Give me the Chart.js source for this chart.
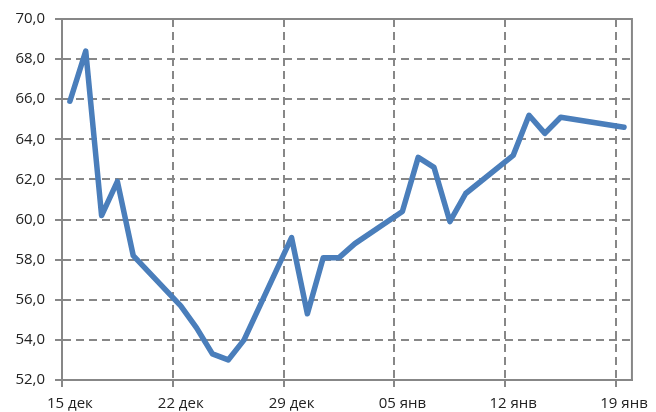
<!DOCTYPE html>
<html>
<head>
<meta charset="utf-8">
<script src="https://cdn.jsdelivr.net/npm/chart.js@4"></script>
<style>
  html, body { margin: 0; padding: 0; background: #fff; }
  #wrap { width: 656px; height: 412px; }
</style>
</head>
<body>
<div id="wrap"><canvas id="chart" width="656" height="412"></canvas></div>
<script>
// дни с 15 дек по 19 янв (выходные без данных = null)
const days = [
  '15 дек', '16 дек', '17 дек', '18 дек', '19 дек', '20 дек', '21 дек',
  '22 дек', '23 дек', '24 дек', '25 дек', '26 дек', '27 дек', '28 дек',
  '29 дек', '30 дек', '31 дек', '01 янв', '02 янв', '03 янв', '04 янв',
  '05 янв', '06 янв', '07 янв', '08 янв', '09 янв', '10 янв', '11 янв',
  '12 янв', '13 янв', '14 янв', '15 янв', '16 янв', '17 янв', '18 янв',
  '19 янв'
];
const values = [
  65.9, 68.4, 60.2, 61.9, 58.2, null, null,
  55.7, 54.6, 53.3, 53.0, 54.0, null, null,
  59.1, 55.3, 58.1, 58.1, 58.8, null, null,
  60.4, 63.1, 62.6, 59.9, 61.3, null, null,
  63.2, 65.2, 64.3, 65.1, null, null, null,
  64.6
];
const yTicks = [52, 54, 56, 58, 60, 62, 64, 66, 68, 70];
const labelEvery = 7;

const gridGray = '#878787';
const txt = '#222';

const frame = {
  id: 'frame',
  beforeDatasetsDraw(chart) {
    const a = chart.chartArea;
    const c = chart.ctx;
    c.save();
    c.strokeStyle = gridGray;
    c.lineWidth = 2;
    c.setLineDash([]);
    c.strokeRect(a.left, a.top, a.right - a.left, a.bottom - a.top);
    c.restore();
  }
};

new Chart(document.getElementById('chart'), {
  type: 'line',
  data: {
    labels: days,
    datasets: [{
      data: values,
      borderColor: '#4a7ebb',
      borderWidth: 5.5,
      borderJoinStyle: 'round',
      borderCapStyle: 'round',
      pointRadius: 0,
      tension: 0,
      spanGaps: true
    }]
  },
  options: {
    responsive: false,
    animation: false,
    layout: { padding: { top: 16, right: 18, left: 0, bottom: 0 } },
    plugins: { legend: { display: false }, tooltip: { enabled: false } },
    scales: {
      x: {
        offset: true,
        afterFit: s => { s.height = 32; },
        grid: {
          offset: true,
          lineWidth: 2,
          color: ctx => ctx.index % labelEvery === 0 ? gridGray : 'rgba(0,0,0,0)',
          tickColor: ctx => ctx.index % labelEvery === 0 ? gridGray : 'rgba(0,0,0,0)',
          tickLength: 7,
          tickWidth: 2,
          tickBorderDash: []
        },
        border: { display: true, color: gridGray, width: 2, dash: [8, 5] },
        ticks: {
          autoSkip: false,
          maxRotation: 0,
          padding: 8,
          color: txt,
          font: { family: 'Open Sans', size: 15 },
          callback: function (v, i) { return i % labelEvery === 0 ? days[i] : ''; }
        }
      },
      y: {
        min: yTicks[0],
        max: yTicks[yTicks.length - 1],
        afterFit: s => { s.width = 62; },
        afterBuildTicks: s => { s.ticks = yTicks.map(v => ({ value: v })); },
        grid: {
          lineWidth: 2,
          color: gridGray,
          tickColor: gridGray,
          tickLength: 7,
          tickWidth: 2,
          tickBorderDash: []
        },
        border: { display: true, color: gridGray, width: 2, dash: [8, 5] },
        ticks: {
          padding: 10,
          color: txt,
          font: { family: 'Open Sans', size: 15 },
          callback: v => v.toFixed(1).replace('.', ',')
        }
      }
    }
  },
  plugins: [frame]
});
</script>
</body>
</html>
